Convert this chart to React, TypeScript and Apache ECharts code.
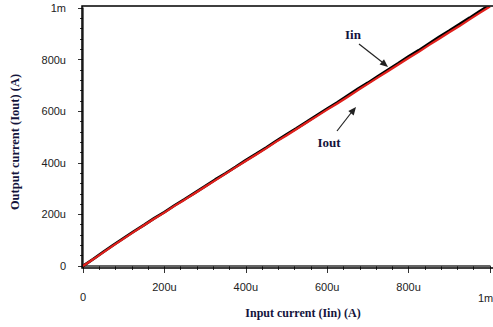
import React, { useEffect, useRef } from "react";
import * as echarts from "echarts";

// input current in micro-amps
const inputCurrent = [0, 25, 50, 75, 100, 125, 150, 175, 200, 225, 250, 275, 300, 325, 350, 375, 400, 425, 450, 475, 500, 525, 550, 575, 600, 625, 650, 675, 700, 725, 750, 775, 800, 825, 850, 875, 900, 925, 950, 975, 1000];
const iinValues = [0, 27, 55, 82, 108, 134, 159, 185, 209, 235, 259, 284, 309, 335, 359, 384, 410, 434, 459, 485, 510, 534, 559, 585, 610, 634, 660, 686, 710, 736, 761, 786, 812, 836, 862, 888, 912, 937, 962, 988, 1012];
const ioutValues = [0, 26, 53, 80, 106, 132, 158, 183, 207, 233, 257, 282, 307, 332, 357, 382, 407, 431, 456, 482, 506, 531, 556, 581, 606, 630, 655, 681, 706, 731, 756, 781, 806, 830, 856, 881, 906, 930, 956, 981, 1006];
const tickValues = [0, 200, 400, 600, 800, 1000];
const tickLabels = ["0", "200u", "400u", "600u", "800u", "1m"];

const fmt = (v: number) => {
  const i = tickValues.indexOf(v);
  return i >= 0 ? tickLabels[i] : "";
};

export default function App() {
  const ref = useRef<HTMLDivElement>(null);
  useEffect(() => {
    if (!ref.current) return;
    const chart = echarts.init(ref.current, null, { renderer: "svg" });
    const axisCommon = {
      type: "value" as const,
      min: 0,
      max: 1000,
      interval: 200,
      splitLine: { show: false },
      axisLine: { show: true, lineStyle: { color: "#333", width: 1.5 } },
      minorTick: { show: true, splitNumber: 5, length: 3, lineStyle: { color: "#333", width: 1 } },
    };
    chart.setOption({
      animation: false,
      backgroundColor: "#fff",
      grid: { left: 83, right: -5, top: 8, bottom: 61 },
      xAxis: {
        ...axisCommon,
        offset: 5,
        axisTick: { show: true, length: 7, lineStyle: { color: "#333", width: 1 } },
        minorTick: { show: true, splitNumber: 5, length: 4, lineStyle: { color: "#333", width: 1 } },
        axisLabel: {
          margin: 10,
          color: "#222",
          fontFamily: "Liberation Sans",
          fontSize: 11,
          formatter: (v: number) => (v === 1000 ? "" : v === 0 ? "{lo|0}" : fmt(v)),
          rich: { lo: { padding: [10, 0, 0, 0], color: "#222", fontFamily: "Liberation Sans", fontSize: 11 } },
        },
      },
      yAxis: {
        ...axisCommon,
        offset: 5,
        axisTick: { show: true, length: 5, lineStyle: { color: "#333", width: 1 } },
        axisLabel: {
          margin: 12,
          color: "#222",
          fontFamily: "Liberation Sans",
          fontSize: 11,
          formatter: (v: number) => fmt(v),
        },
      },
      series: [
        {
          name: "Iin",
          type: "line",
          data: inputCurrent.map((x, i) => [x, iinValues[i]]),
          showSymbol: false,
          lineStyle: { color: "#000", width: 2.8 },
          z: 2,
        },
        {
          name: "Iout",
          type: "line",
          data: inputCurrent.map((x, i) => [x, ioutValues[i]]),
          showSymbol: false,
          lineStyle: { color: "#e0201c", width: 2.2 },
          z: 3,
        },
      ],
      graphic: [
        { type: "rect", shape: { x: 82, y: 6, width: 420, height: 262 }, style: { fill: "none", stroke: "#000", lineWidth: 1.5 }, z: 10 },
        { type: "text", x: 478, y: 298, style: { text: "1m", fill: "#222", font: "11px 'Liberation Sans'", textVerticalAlign: "middle" } },
        { type: "text", x: 303, y: 313, style: { text: "Input current (Iin) (A)", fill: "#14143c", font: "bold 12px 'Liberation Serif'", textAlign: "center", textVerticalAlign: "middle" } },
        { type: "text", x: 15, y: 142, rotation: Math.PI / 2, style: { text: "Output current (Iout) (A)", fill: "#14143c", font: "bold 12.5px 'Liberation Serif'", textAlign: "center", textVerticalAlign: "middle" } },
        { type: "text", x: 353, y: 34, style: { text: "Iin", fill: "#14143c", font: "bold 13px 'Liberation Serif'", textAlign: "center", textVerticalAlign: "middle" } },
        { type: "text", x: 329, y: 142, style: { text: "Iout", fill: "#14143c", font: "bold 13px 'Liberation Serif'", textAlign: "center", textVerticalAlign: "middle" } },
        { type: "line", shape: { x1: 359, y1: 44, x2: 382, y2: 62 }, style: { stroke: "#222", lineWidth: 1.2 } },
        { type: "polygon", shape: { points: [[388, 67], [379.6, 64.6], [384.0, 59.2]] }, style: { fill: "#222" } },
        { type: "line", shape: { x1: 337, y1: 131, x2: 351, y2: 113 }, style: { stroke: "#222", lineWidth: 1.2 } },
        { type: "polygon", shape: { points: [[356, 107], [353.7, 115.5], [348.3, 111.1]] }, style: { fill: "#222" } },
      ],
    });
    return () => chart.dispose();
  }, []);
  return <div ref={ref} style={{ width: 493, height: 327, position: "absolute", left: 0, top: 0 }} />;
}
